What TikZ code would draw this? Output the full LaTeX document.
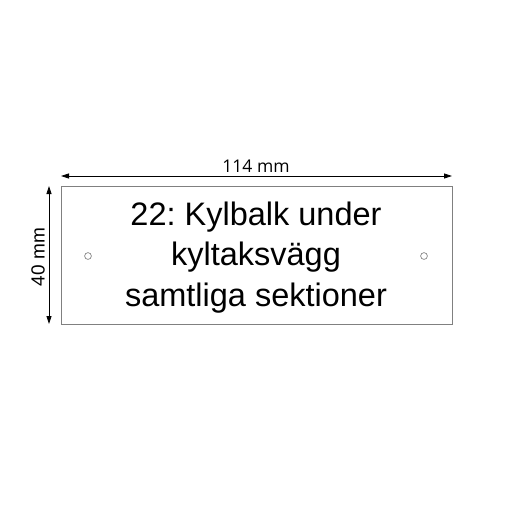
\documentclass[tikz,border=0pt]{standalone}
\usepackage{fontspec}
\setmainfont{Liberation Sans}
\newfontfamily\dimfont{Open Sans}
\usetikzlibrary{arrows.meta}
\frenchspacing
\begin{document}
\begin{tikzpicture}[x=1pt,y=-1pt,
  plate/.style={draw=black!50,line width=0.8pt},
  hole/.style={draw=black!55,line width=0.6pt},
  dimline/.style={draw=black,line width=0.8pt,{Triangle[length=8pt,width=5pt]}-{Triangle[length=8pt,width=5pt]}},
  dimlabel/.style={font=\dimfont\fontsize{17.5}{19}\selectfont,inner sep=0pt},
  vdimlabel/.style={font=\fontsize{19}{21}\selectfont,inner sep=0pt},
  signtext/.style={font=\fontsize{32.5}{40.5}\selectfont,align=center,inner sep=0pt}]
\useasboundingbox (0,0) rectangle (512,512);
\fill[white] (0,0) rectangle (512,512);
\draw[plate] (61,186) rectangle (452,324);
\coordinate (hl) at (61,176);
\coordinate (hr) at (452,176);
\coordinate (vt) at (49,186);
\coordinate (vb) at (49,324);
\draw[dimline] (hl) -- (hr);
\draw[dimline] (vt) -- (vb);
\node[dimlabel,anchor=base] (wlab) at (256,172.5) {114 mm};
\node[vdimlabel,rotate=90] (hlab) at (38,257) {40 mm};
\draw[hole] (88,256) circle (3.4);
\draw[hole] (424,256) circle (3.4);
\node[signtext,anchor=base] (t1) at (256,225) {22: Kylbalk under};
\node[signtext,anchor=base] (t2) at (256,265.5) {kyltaksvägg};
\node[signtext,anchor=base] (t3) at (256,306) {samtliga sektioner};
\end{tikzpicture}
\end{document}
